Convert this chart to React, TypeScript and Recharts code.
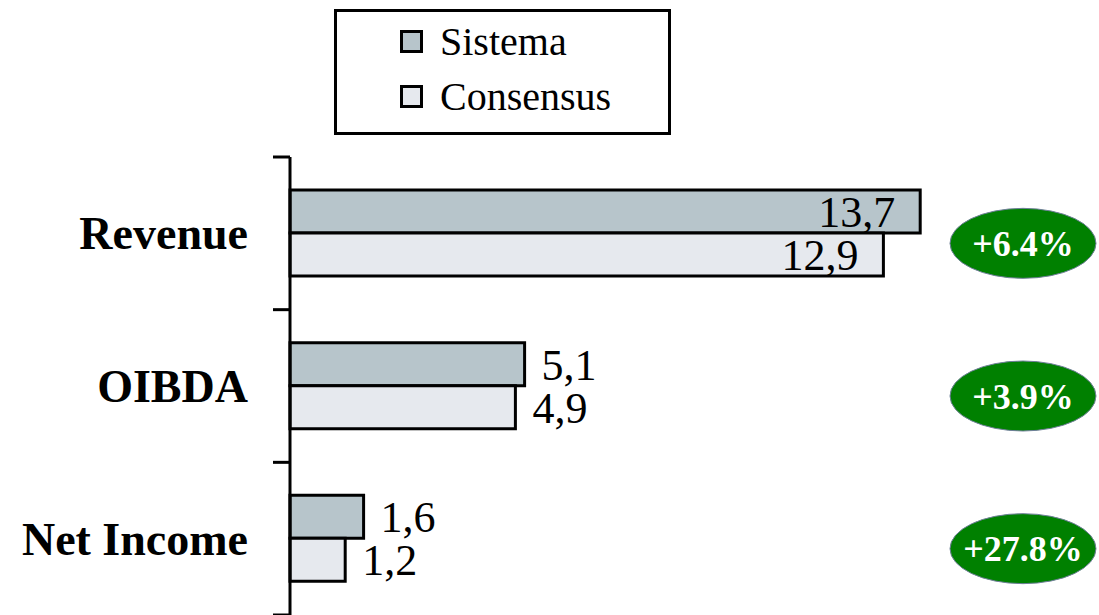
import { Bar, BarChart, LabelList, Legend, XAxis, YAxis } from 'recharts';

const CATEGORIES = ['Revenue', 'OIBDA', 'Net Income'];
const SISTEMA = [13.7, 5.1, 1.6];
const CONSENSUS = [12.9, 4.9, 1.2];
const CHANGES = ['+6.4%', '+3.9%', '+27.8%'];
const SERIES_ORDER = ['Sistema', 'Consensus'];

const SERIF = '"Liberation Serif", "Times New Roman", serif';

const data = CATEGORIES.map((name, i) => ({
  name,
  sistema: SISTEMA[i],
  consensus: CONSENSUS[i],
  change: CHANGES[i],
}));

const TICK_MARGIN = 42;
const TICK_LEN = 17;

function ValueLabel(props: any) {
  const { x, y, width, height, value } = props;
  const text = Number(value).toFixed(1).replace('.', ',');
  const inside = width > 400;
  return (
    <text
      x={inside ? x + width - 25 : x + width + 17}
      y={y + height / 2}
      dy="0.35em"
      textAnchor={inside ? 'end' : 'start'}
      fontFamily={SERIF}
      fontSize={44}
      fill="#000"
    >
      {text}
    </text>
  );
}

// category label plus the tick marks that sit on the band edges (Excel style)
function CategoryTick(props: any) {
  const { x, y, payload, index, visibleTicksCount } = props;
  const axisX = x + TICK_MARGIN;
  const half = payload.offset || 0;
  const isLast = index === visibleTicksCount - 1;
  return (
    <g>
      <line x1={axisX - TICK_LEN} x2={axisX} y1={y - half} y2={y - half} stroke="#000" strokeWidth={3} />
      {isLast && (
        <line x1={axisX - TICK_LEN} x2={axisX} y1={y + half} y2={y + half} stroke="#000" strokeWidth={3} />
      )}
      <text
        x={x}
        y={y}
        dy="0.35em"
        textAnchor="end"
        fontFamily={SERIF}
        fontWeight="bold"
        fontSize={46}
        fill="#000"
      >
        {payload.value}
      </text>
    </g>
  );
}

function ChangeTick(props: any) {
  const { x, y, payload } = props;
  const row = data.find((d) => d.name === payload.value);
  if (!row) return null;
  return (
    <g>
      <ellipse cx={x + 43} cy={y + 10} rx={73} ry={35} fill="#008000" stroke="#6f7f99" strokeWidth={1} />
      <text
        x={x + 43}
        y={y + 10}
        dy="0.35em"
        textAnchor="middle"
        fontFamily={SERIF}
        fontWeight="bold"
        fontSize={36}
        fill="#fff"
      >
        {row.change}
      </text>
    </g>
  );
}

function LegendBox(props: any) {
  const items = [...(props.payload || [])].sort(
    (a: any, b: any) => SERIES_ORDER.indexOf(a.value) - SERIES_ORDER.indexOf(b.value),
  );
  return (
    <div
      style={{
        boxSizing: 'border-box',
        width: '100%',
        height: '100%',
        border: '3px solid #000',
        background: '#fff',
        paddingTop: 2,
        paddingLeft: 63,
      }}
    >
      {items.map((item: any) => (
        <div key={item.value} style={{ display: 'flex', alignItems: 'center', height: 55 }}>
          <span
            style={{
              display: 'inline-block',
              boxSizing: 'border-box',
              width: 23,
              height: 23,
              border: '3px solid #000',
              background: item.color,
              marginRight: 17,
            }}
          />
          <span style={{ fontFamily: SERIF, fontSize: 40, color: '#000', lineHeight: 1 }}>
            {item.value}
          </span>
        </div>
      ))}
    </div>
  );
}

export default function App() {
  return (
    <div style={{ position: 'absolute', left: 0, top: 0, width: 1099, height: 615, background: '#fff' }}>
      <BarChart
        width={1099}
        height={615}
        data={data}
        layout="vertical"
        margin={{ top: 157, right: 0, bottom: 0, left: 0 }}
        barGap={0}
      >
        <XAxis type="number" domain={[0, 15]} hide />
        <YAxis
          yAxisId="cat"
          type="category"
          dataKey="name"
          width={290}
          tickSize={0}
          tickMargin={TICK_MARGIN}
          axisLine={{ stroke: '#000', strokeWidth: 3 }}
          tickLine={false}
          tick={<CategoryTick />}
        />
        <YAxis
          yAxisId="chg"
          orientation="right"
          type="category"
          dataKey="name"
          width={119}
          tickSize={0}
          tickMargin={0}
          axisLine={false}
          tickLine={false}
          tick={<ChangeTick />}
        />
        <Legend
          layout="horizontal"
          verticalAlign="middle"
          align="center"
          wrapperStyle={{ top: 9, left: 334, width: 337, height: 126 }}
          content={<LegendBox />}
        />
        <Bar
          yAxisId="cat"
          dataKey="sistema"
          name="Sistema"
          fill="#b7c5cb"
          stroke="#000"
          strokeWidth={3}
          barSize={43}
          isAnimationActive={false}
        >
          <LabelList dataKey="sistema" content={<ValueLabel />} />
        </Bar>
        <Bar
          yAxisId="cat"
          dataKey="consensus"
          name="Consensus"
          fill="#e6e9ee"
          stroke="#000"
          strokeWidth={3}
          barSize={43}
          isAnimationActive={false}
        >
          <LabelList dataKey="consensus" content={<ValueLabel />} />
        </Bar>
      </BarChart>
    </div>
  );
}
